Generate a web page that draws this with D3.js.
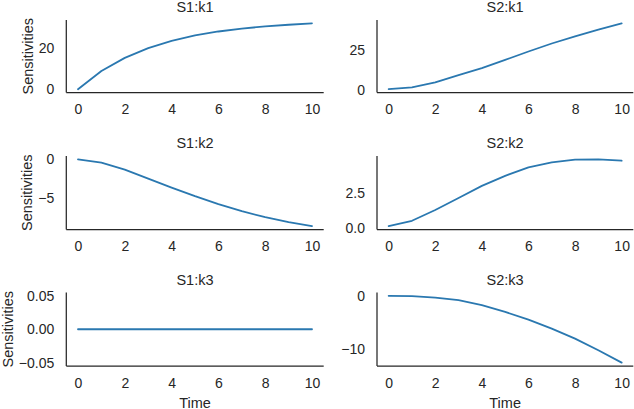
<!DOCTYPE html>
<html>
<head>
<meta charset="utf-8">
<script src="https://cdn.jsdelivr.net/npm/d3@7"></script>
<style>
  html, body { margin: 0; padding: 0; background: #fff; }
  svg { display: block; }
  text { font-family: "Liberation Sans", Arial, sans-serif; fill: #262626; }
</style>
</head>
<body>
<svg id="chart" width="634" height="409"></svg>
<script>
// ---- data ----
const times = [0, 1, 2, 3, 4, 5, 6, 7, 8, 9, 10];
const s1k1 = [0, 8.9, 15.3, 20.1, 23.6, 26.3, 28.2, 29.6, 30.7, 31.5, 32.2];
const s2k1 = [0.3, 1.5, 4.6, 9.2, 13.5, 18.7, 24.0, 29.0, 33.5, 37.7, 41.7];
const s1k2 = [0, -0.43, -1.34, -2.5, -3.68, -4.8, -5.84, -6.75, -7.53, -8.18, -8.7];
const s2k2 = [0.12, 0.51, 1.29, 2.16, 3.03, 3.76, 4.37, 4.73, 4.93, 4.95, 4.85];
const s1k3 = [0, 0, 0, 0, 0, 0, 0, 0, 0, 0, 0];
const s2k3 = [0, -0.06, -0.32, -0.82, -1.77, -3.04, -4.49, -6.2, -8.1, -10.3, -12.65];

const titles = ["S1:k1", "S2:k1", "S1:k2", "S2:k2", "S1:k3", "S2:k3"];
const xTicks = [0, 2, 4, 6, 8, 10];
const yTicksS1k1 = [0, 20];
const yTicksS2k1 = [0, 25];
const yTicksS1k2 = [0, -5];
const yTicksS2k2 = [0, 2.5];
const yTicksS1k3 = [-0.05, 0, 0.05];
const yTicksS2k3 = [0, -10];
const yTickFormats = ["d", "d", "d", ".1f", ".2f", "d"];
const yLabel = "Sensitivities";
const xLabel = "Time";

// ---- layout ----
const colLeft = [66.3, 377];
const colRight = [323.7, 633.3];
const rowTop = [20, 156, 292.5];
const rowBottom = [92.5, 229.5, 366];
const lineColor = "#2a78b0";
const axisColor = "#262626";
const tickFont = 14;
const labelFont = 14.5;

const series = [s1k1, s2k1, s1k2, s2k2, s1k3, s2k3];
const yTicks = [yTicksS1k1, yTicksS2k1, yTicksS1k2, yTicksS2k2, yTicksS1k3, yTicksS2k3];

const svg = d3.select("#chart");

function domainWithMargins(vals) {
  let lo = d3.min(vals), hi = d3.max(vals);
  if (lo === hi) { lo -= 0.05; hi += 0.05; }
  const r = hi - lo;
  return [lo - 0.05 * r, hi + 0.05 * r];
}

series.forEach((vals, i) => {
  const col = i % 2, row = Math.floor(i / 2);
  const x0 = colLeft[col], x1 = colRight[col];
  const y0 = rowTop[row], y1 = rowBottom[row];

  const x = d3.scaleLinear().domain([-0.5, 10.5]).range([x0, x1]);
  const y = d3.scaleLinear().domain(domainWithMargins(vals)).range([y1, y0]);

  const g = svg.append("g");

  // x axis
  const fmtMinus = f => v => d3.format(f)(v).replace("-", "\u2212");
  const xa = g.append("g").attr("transform", `translate(0,${y1})`)
    .call(d3.axisBottom(x).tickValues(xTicks).tickSize(0).tickPadding(0).tickFormat(d3.format("d")));
  xa.select(".domain").attr("stroke", axisColor).attr("stroke-width", 1.25)
    .attr("d", `M${x0},0H${x1}`);
  xa.selectAll("text").attr("font-size", tickFont).attr("dy", null).attr("y", 21.5)
    .attr("fill", "#262626").style("font-family", "'Liberation Sans', Arial, sans-serif");

  // y axis
  const ya = g.append("g").attr("transform", `translate(${x0},0)`)
    .call(d3.axisLeft(y).tickValues(yTicks[i]).tickSize(0).tickPadding(12)
      .tickFormat(fmtMinus(yTickFormats[i])));
  ya.select(".domain").attr("stroke", axisColor).attr("stroke-width", 1.25)
    .attr("d", `M0,${y0}V${y1}`);
  ya.selectAll("text").attr("font-size", tickFont).attr("fill", "#262626")
    .style("font-family", "'Liberation Sans', Arial, sans-serif");

  // line
  const line = d3.line().x((d, k) => x(times[k])).y(d => y(d));
  g.append("path").datum(vals).attr("d", line)
    .attr("fill", "none").attr("stroke", lineColor).attr("stroke-width", 1.8)
    .attr("stroke-linejoin", "round").attr("stroke-linecap", "round");

  // title
  g.append("text").attr("x", (x0 + x1) / 2).attr("y", y0 - 8)
    .attr("text-anchor", "middle").attr("font-size", labelFont).text(titles[i]);

  // y label on left column
  if (col === 0) {
    const bb = ya.node().getBBox();
    const lx = x0 + bb.x - 6;
    g.append("text").attr("transform", `translate(${lx},${(y0 + y1) / 2}) rotate(-90)`)
      .attr("text-anchor", "middle").attr("font-size", labelFont).text(yLabel);
  }
  // x label on bottom row
  if (row === 2) {
    g.append("text").attr("x", (x0 + x1) / 2).attr("y", y1 + 41.5)
      .attr("text-anchor", "middle").attr("font-size", labelFont).text(xLabel);
  }
});
</script>
</body>
</html>
